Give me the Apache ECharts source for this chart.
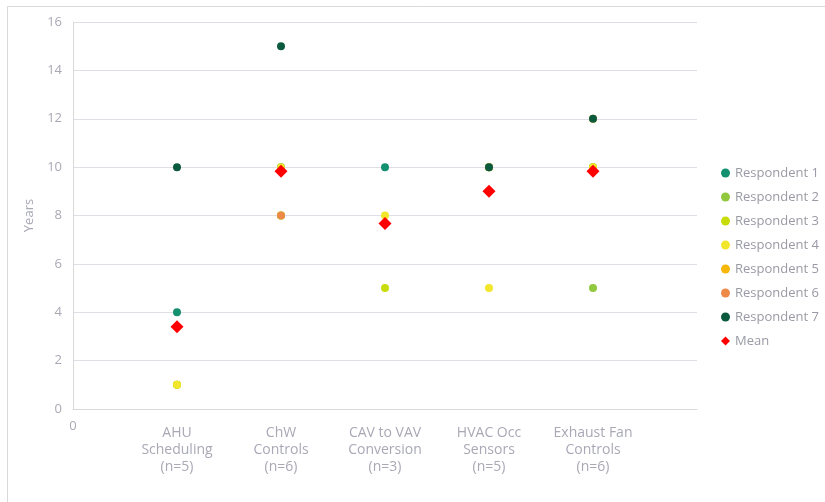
<!DOCTYPE html>
<html><head><meta charset="utf-8">
<script src="https://cdn.jsdelivr.net/npm/echarts@6/dist/echarts.min.js"></script>
<style>html,body{margin:0;padding:0;background:#fff}#c{width:825px;height:502px}</style>
</head><body><div id="c"></div>
<script>
const categories = ['AHU\nScheduling\n(n=5)', 'ChW\nControls\n(n=6)', 'CAV to VAV\nConversion\n(n=3)', 'HVAC Occ\nSensors\n(n=5)', 'Exhaust Fan\nControls\n(n=6)'];
const categoryX = [1, 2, 3, 4, 5];
const respondent1 = [4, 10, 10, 10, 10];
const respondent2 = [1, 8, null, 10, 5];
const respondent3 = [1, 8, 5, null, 10];
const respondent4 = [1, 10, 8, 5, 10];
const respondent5 = [null, null, null, 10, 12];
const respondent6 = [null, 8, null, null, null];
const respondent7 = [10, 15, null, 10, 12];
const meanValues = [3.4, 9.83, 7.67, 9, 9.83];
const yTicks = [0, 2, 4, 6, 8, 10, 12, 14, 16];

const seriesNames = ['Respondent 1','Respondent 2','Respondent 3','Respondent 4','Respondent 5','Respondent 6','Respondent 7'];
const seriesData = [respondent1, respondent2, respondent3, respondent4, respondent5, respondent6, respondent7];
const colors = ['#13906f', '#92c83e', '#c9dc0b', '#f1e62c', '#f6b60a', '#ee8a48', '#0c5a3d'];

const toPts = arr => arr.map((v, i) => v == null ? null : [categoryX[i], v]).filter(p => p);

const series = seriesNames.map((n, i) => ({
  name: n, type: 'scatter', symbol: 'circle', symbolSize: 8,
  itemStyle: { color: colors[i], opacity: 1 },
  data: toPts(seriesData[i])
}));
series.push({
  name: 'Mean', type: 'scatter', symbol: 'diamond', symbolSize: 13,
  itemStyle: { color: '#ff0000', opacity: 1 },
  data: toPts(meanValues)
});

const chart = echarts.init(document.getElementById('c'), null, { renderer: 'canvas' });
const font = '"Open Sans", Lato, sans-serif';
const txt = '#a9a9b6';
chart.setOption({
  animation: false,
  textStyle: { fontFamily: font },
  graphic: [{ type: 'rect', shape: { x: 7.5, y: 6.5, width: 840, height: 520 }, style: { fill: 'none', stroke: '#d9d9d9', lineWidth: 1 }, silent: true }],
  grid: { left: 73, right: 128, top: 22, bottom: 93 },
  legend: {
    orient: 'vertical', left: 716, top: 161,
    itemWidth: 9, itemHeight: 9, itemGap: 10,
    textStyle: { color: '#9a9aa6', fontSize: 13, lineHeight: 14, fontFamily: font },
    data: seriesNames.map(n => ({ name: n, icon: 'circle' })).concat([{ name: 'Mean', icon: 'diamond' }])
  },
  xAxis: [{
    type: 'value', min: 0, max: 6, interval: 1,
    axisLine: { show: true, lineStyle: { color: '#d9d9d9' } },
    axisTick: { show: false }, splitLine: { show: false },
    axisLabel: { margin: 11, color: txt, fontSize: 13, formatter: v => v === 0 ? '0' : '' }
  }, {
    type: 'value', min: 0, max: 6, interval: 1, position: 'bottom',
    axisLine: { show: false }, axisTick: { show: false }, splitLine: { show: false },
    axisLabel: {
      margin: 16, color: txt, fontSize: 14, lineHeight: 17,
      formatter: v => { const i = categoryX.indexOf(v); return i >= 0 ? categories[i] : ''; }
    }
  }],
  yAxis: {
    type: 'value', min: yTicks[0], max: yTicks[yTicks.length - 1], interval: 2,
    name: 'Years', nameLocation: 'middle', nameGap: 35, nameRotate: 90,
    nameTextStyle: { color: txt, fontSize: 13 },
    axisLine: { show: true, lineStyle: { color: '#d9d9d9' } },
    axisTick: { show: false },
    splitLine: { lineStyle: { color: '#dedee4' } },
    axisLabel: { margin: 11, color: txt, fontSize: 13 }
  },
  series: series
});
</script></body></html>
